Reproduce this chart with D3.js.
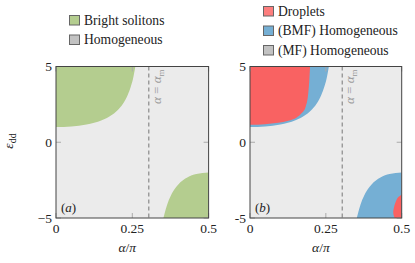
<!DOCTYPE html>
<html>
<head>
<meta charset="utf-8">
<script src="https://cdn.jsdelivr.net/npm/d3@7"></script>
<style>
body { margin: 0; background: #fff; }
</style>
</head>
<body>
<div id="chart"></div>
<script>
//axis ticks
var alphaTicks = [0, 0.25, 0.5];
var alphaTickLabels = ["0", "0.25", "0.5"];
var epsTicks = [-5, 0, 5];
var epsTickLabelsA = ["\u22125", "0", "5"];
var epsTickLabelsB = ["-5", "0", "5"];
var alphaMagic = 0.304;

//boundary of the stable region, eps > 0 side
var upperAlpha = [0, 0.05, 0.1, 0.15, 0.18, 0.2, 0.22, 0.235, 0.245, 0.252, 0.26];
var upperEps = [1.0, 1.04, 1.17, 1.45, 1.76, 2.08, 2.56, 3.12, 3.66, 4.16, 5.0];
//boundary, eps < 0 side
var lowerAlpha = [0.352, 0.36, 0.38, 0.4, 0.43, 0.46, 0.5];
var lowerEps = [-5, -4.39, -3.37, -2.8, -2.33, -2.1, -2.0];
//droplet boundaries (panel b)
var dropUpperAlpha = [0, 0.049, 0.093, 0.126, 0.154, 0.17, 0.1835, 0.192, 0.1955, 0.198];
var dropUpperEps = [1.15, 1.19, 1.28, 1.42, 1.64, 1.91, 2.35, 3.23, 4.1, 5.0];
var dropLowerEps = [-5, -4.85, -4.6, -4.35, -3.95, -3.6, -3.45];
var dropLowerAlpha = [0.477, 0.474, 0.472, 0.474, 0.48, 0.49, 0.5];

var legendA = ["Bright solitons", "Homogeneous"];
var legendB = ["Droplets", "(BMF) Homogeneous", "(MF) Homogeneous"];

var green = "#b4cd8f", red = "#f96262", blue = "#75afd4", gray = "#c2c2c2", bg = "#ebebeb";
var serif = "Liberation Serif";

var svg = d3.select("#chart").append("svg")
  .attr("width", 415)
  .attr("height", 263)
  .attr("font-family", serif);

var y = d3.scaleLinear().domain([-5, 5]).range([218, 66.5]);

function addText(sel) {
  return sel.append("text")
    .attr("font-family", serif)
    .attr("fill", "#222");
}

function drawPanel(id, x, epsLabels, tag, regions) {
  var g = svg.append("g");
  var r = x.range();

  g.append("clipPath").attr("id", "clip" + id)
    .append("rect")
      .attr("x", r[0]).attr("y", y(5))
      .attr("width", r[1] - r[0]).attr("height", y(-5) - y(5));

  g.append("rect")
    .attr("x", r[0]).attr("y", y(5))
    .attr("width", r[1] - r[0]).attr("height", y(-5) - y(5))
    .attr("fill", bg);

  var fills = g.append("g").attr("clip-path", "url(#clip" + id + ")");
  regions.forEach(function(reg) {
    fills.append("path").attr("d", reg.path).attr("fill", reg.color);
  });

  //ticks inside on all four sides
  alphaTicks.forEach(function(t) {
    g.append("line").attr("x1", x(t)).attr("x2", x(t))
      .attr("y1", y(-5)).attr("y2", y(-5) - 5).attr("stroke", "#aaa");
    g.append("line").attr("x1", x(t)).attr("x2", x(t))
      .attr("y1", y(5)).attr("y2", y(5) + 5).attr("stroke", "#aaa");
  });
  epsTicks.forEach(function(t) {
    g.append("line").attr("x1", r[0]).attr("x2", r[0] + 5)
      .attr("y1", y(t)).attr("y2", y(t)).attr("stroke", "#aaa");
    g.append("line").attr("x1", r[1]).attr("x2", r[1] - 5)
      .attr("y1", y(t)).attr("y2", y(t)).attr("stroke", "#aaa");
  });

  //dashed magic angle line
  g.append("line")
    .attr("x1", x(alphaMagic)).attr("x2", x(alphaMagic))
    .attr("y1", y(5)).attr("y2", y(-5))
    .attr("stroke", "#8a8a8a").attr("stroke-width", 1.2)
    .attr("stroke-dasharray", "4,3");

  var lab = addText(g)
    .attr("transform", "translate(" + (x(alphaMagic) + 12) + "," + (y(5) + 3) + ") rotate(-90)")
    .attr("text-anchor", "end")
    .attr("font-size", 13)
    .attr("fill", "#999");
  lab.append("tspan").attr("font-style", "italic").text("\u03b1");
  lab.append("tspan").text(" = ");
  lab.append("tspan").attr("font-style", "italic").text("\u03b1");
  lab.append("tspan").attr("dy", 3).attr("font-size", 9).text("m");

  //frame
  g.append("rect")
    .attr("x", r[0]).attr("y", y(5))
    .attr("width", r[1] - r[0]).attr("height", y(-5) - y(5))
    .attr("fill", "none").attr("stroke", "#444").attr("stroke-width", 1);

  //tick labels
  alphaTicks.forEach(function(d, i) {
    addText(g)
      .attr("x", x(d))
      .attr("y", 233)
      .attr("text-anchor", "middle")
      .attr("font-size", 13.5)
      .text(alphaTickLabels[i]);
  });

  epsTicks.forEach(function(d, i) {
    addText(g)
      .attr("x", r[0] - 4)
      .attr("y", y(d))
      .attr("dy", "0.35em")
      .attr("text-anchor", "end")
      .attr("font-size", 13.5)
      .text(epsLabels[i]);
  });

  //x axis label
  var xl = addText(g)
    .attr("x", (r[0] + r[1]) / 2 - 5)
    .attr("y", 252)
    .attr("text-anchor", "middle")
    .attr("font-size", 13.5);
  xl.append("tspan").attr("font-style", "italic").text("\u03b1");
  xl.append("tspan").text("/");
  xl.append("tspan").attr("font-style", "italic").text("\u03c0");

  //panel tag
  var tg = addText(g)
    .attr("x", r[0] + 5)
    .attr("y", 212)
    .attr("font-size", 13);
  tg.append("tspan").text("(");
  tg.append("tspan").attr("font-style", "italic").text(tag);
  tg.append("tspan").text(")");
}

function upperArea(x) {
  return d3.area()
    .x(function(d) { return x(d[0]); })
    .y0(y(5))
    .y1(function(d) { return y(d[1]); })
    .curve(d3.curveMonotoneX);
}
function lowerArea(x) {
  return d3.area()
    .x(function(d) { return x(d[0]); })
    .y0(y(-5))
    .y1(function(d) { return y(d[1]); })
    .curve(d3.curveMonotoneX);
}

var upperData = d3.zip(upperAlpha, upperEps);
var lowerData = d3.zip(lowerAlpha, lowerEps);
var dropUpperData = d3.zip(dropUpperAlpha, dropUpperEps);
var dropLowerData = d3.zip(dropLowerEps, dropLowerAlpha);

//panel (a)
var xA = d3.scaleLinear().domain([0, 0.5]).range([56, 208.6]);
drawPanel("a", xA, epsTickLabelsA, "a", [
  {path: upperArea(xA)(upperData), color: green},
  {path: lowerArea(xA)(lowerData), color: green}
]);

//panel (b)
var xB = d3.scaleLinear().domain([0, 0.5]).range([250, 401.7]);
var dropLowerArea = d3.area()
  .y(function(d) { return y(d[0]); })
  .x0(xB(0.5))
  .x1(function(d) { return xB(d[1]); })
  .curve(d3.curveMonotoneY);
drawPanel("b", xB, epsTickLabelsB, "b", [
  {path: upperArea(xB)(upperData), color: blue},
  {path: lowerArea(xB)(lowerData), color: blue},
  {path: upperArea(xB)(dropUpperData), color: red},
  {path: dropLowerArea(dropLowerData), color: red}
]);

//y axis label
var yl = addText(svg)
  .attr("transform", "translate(13,141) rotate(-90)")
  .attr("text-anchor", "middle")
  .attr("font-size", 13.5);
yl.append("tspan").attr("font-style", "italic").text("\u03b5");
yl.append("tspan").attr("dy", 3).attr("font-size", 10).text("dd");

//legends
function drawLegend(labels, colors, lx, ly) {
  labels.forEach(function(l, i) {
    var yy = ly + i * 19.5;
    svg.append("rect")
      .attr("x", lx + 0.5).attr("y", yy + 0.5)
      .attr("width", 10).attr("height", 9.5)
      .attr("fill", colors[i]).attr("stroke", "#666").attr("stroke-width", 1);
    addText(svg)
      .attr("x", lx + 15).attr("y", yy + 5)
      .attr("dy", "0.35em")
      .attr("font-size", 13.6)
      .text(l);
  });
}
drawLegend(legendA, [green, gray], 69, 15);
drawLegend(legendB, ["#fd7e7e", blue, gray], 263, 6);
</script>
</body>
</html>
